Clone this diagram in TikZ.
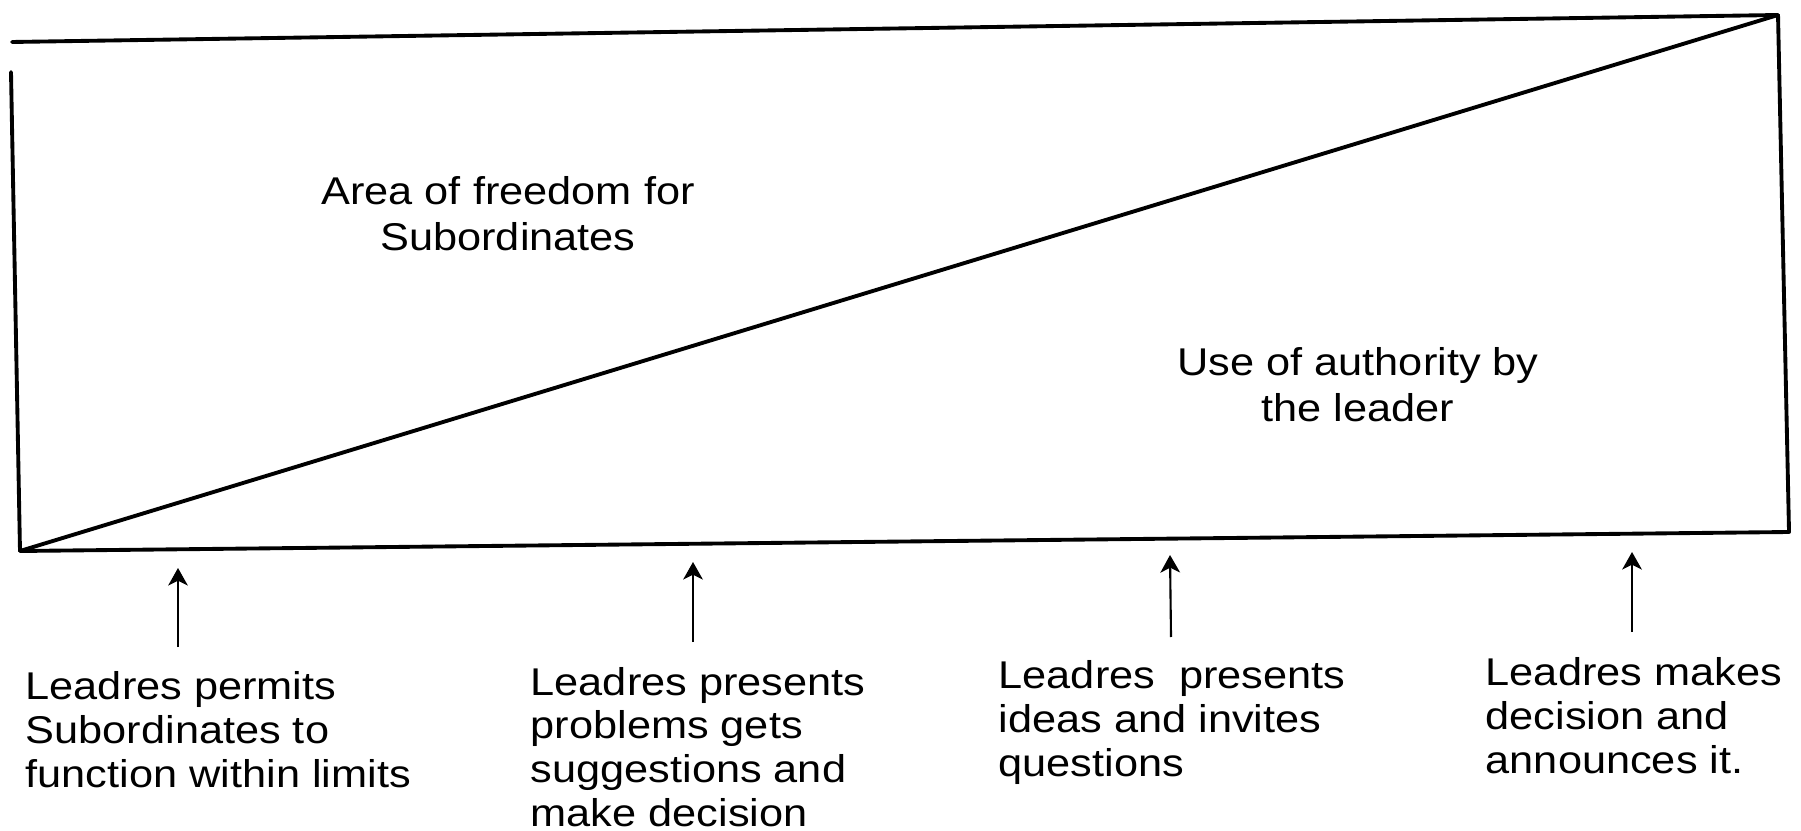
\documentclass[tikz,border=0pt]{standalone}
\usepackage{fontspec}
\setmainfont[FakeStretch=1.12]{Liberation Sans}
\usetikzlibrary{arrows.meta}
\begin{document}
\begin{tikzpicture}[x=0.01cm,y=-0.01cm,
  frame/.style={line width=1.1pt, line cap=round, line join=round},
  pointer/.style={line width=0.6pt, -{Stealth[length=5pt,width=5.6pt,inset=1.4pt]}},
  caption/.style={inner sep=0pt, align=center, font=\fontsize{11pt}{13.1pt}\selectfont},
  remark/.style={inner sep=0pt, align=left, font=\fontsize{11pt}{12.4pt}\selectfont}]
  \useasboundingbox (0,0) rectangle (1801,831);

  % corners of the box
  \coordinate (tl) at (12,42);
  \coordinate (lt) at (11,72);
  \coordinate (bl) at (20,551);
  \coordinate (br) at (1789,532);
  \coordinate (tr) at (1778,15);

  % box outline (left side stops short of the top edge) and the diagonal
  \draw[frame] (tl) -- (tr) -- (br) -- (bl) -- (lt);
  \draw[frame] (bl) -- (tr);

  % the two areas (anchored on the baseline of the last line)
  \node[caption, anchor=base] (freedom) at (508,251) {Area of freedom for\\Subordinates};
  \node[caption, anchor=base] (authority) at (1358,422) {Use of authority by\\the leader};

  % points along the continuum (anchored on the baseline of the last line)
  \node[remark, anchor=base west] (r1) at (25,787) {Leadres permits\\Subordinates to\\function within limits};
  \node[remark, anchor=base west] (r2) at (530,826) {Leadres presents\\problems gets\\suggestions and\\make decision};
  \node[remark, anchor=base west] (r3) at (998,776) {Leadres\ \ presents\\ideas and invites\\questions};
  \node[remark, anchor=base west] (r4) at (1485,773) {Leadres makes\\decision and\\announces it.};

  \coordinate (a1) at (178,647); \coordinate (h1) at (178,568);
  \coordinate (a2) at (693,642); \coordinate (h2) at (693,562);
  \coordinate (a3) at (1171,637); \coordinate (h3) at (1170,555);
  \coordinate (a4) at (1632,632); \coordinate (h4) at (1632,552);

  \draw[pointer, line width=0.4pt] (a1) -- (h1);
  \draw[pointer] (a2) -- (h2);
  \draw[pointer] (a3) -- (h3);
  \draw[pointer] (a4) -- (h4);
\end{tikzpicture}
\end{document}
